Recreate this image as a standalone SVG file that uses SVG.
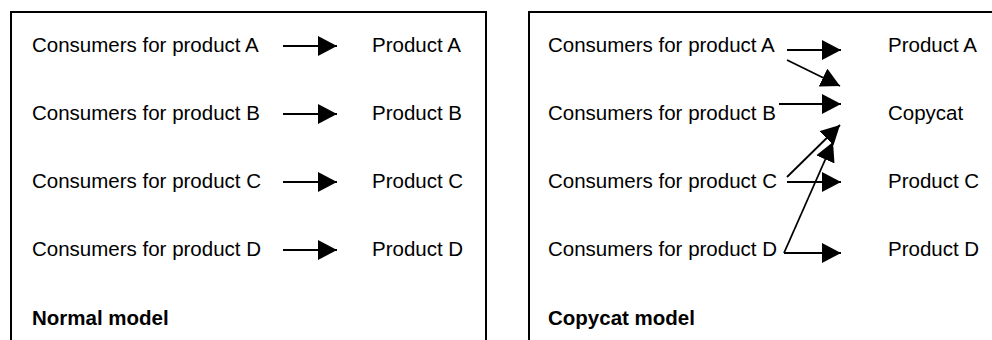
<svg xmlns="http://www.w3.org/2000/svg" width="992" height="340" viewBox="0 0 992 340">
<style>
text{font-family:"Liberation Sans",Arial,sans-serif;font-size:20.5px;fill:#000}
.b{font-weight:bold}
.frame{fill:none;stroke:#000;stroke-width:2}
.c{fill:none;stroke:#000;stroke-width:1.8}
</style>
<defs>
<marker id="ah" markerUnits="userSpaceOnUse" markerWidth="20" markerHeight="20" refX="19" refY="10" orient="auto">
<path d="M0,0 L19,10 L0,20 z" fill="#000"/>
</marker>
</defs>
<rect width="992" height="340" fill="#fff"/>
<g id="normal-panel">
<path class="frame" d="M11,345 V12 H486 V345"/>
<g id="n-consA"><text x="32" y="52">Consumers for product A</text></g>
<g id="n-consB"><text x="32" y="120">Consumers for product B</text></g>
<g id="n-consC"><text x="32" y="188">Consumers for product C</text></g>
<g id="n-consD"><text x="32" y="256">Consumers for product D</text></g>
<g id="n-prodA"><text x="372" y="52">Product A</text></g>
<g id="n-prodB"><text x="372" y="120">Product B</text></g>
<g id="n-prodC"><text x="372" y="188">Product C</text></g>
<g id="n-prodD"><text x="372" y="256">Product D</text></g>
<g id="n-label"><text class="b" x="32" y="325">Normal model</text></g>
</g>
<g id="copycat-panel">
<path class="frame" d="M529,345 V12 H1000"/>
<g id="c-consA"><text x="548" y="52">Consumers for product A</text></g>
<g id="c-consB"><text x="548" y="120">Consumers for product B</text></g>
<g id="c-consC"><text x="548" y="188">Consumers for product C</text></g>
<g id="c-consD"><text x="548" y="256">Consumers for product D</text></g>
<g id="c-prodA"><text x="888" y="52">Product A</text></g>
<g id="c-copycat"><text x="888" y="120">Copycat</text></g>
<g id="c-prodC"><text x="888" y="188">Product C</text></g>
<g id="c-prodD"><text x="888" y="256">Product D</text></g>
<g id="c-label"><text class="b" x="548" y="325">Copycat model</text></g>
</g>
<g id="connectors">
<line class="c" x1="283" y1="46" x2="337" y2="46" marker-end="url(#ah)"/>
<line class="c" x1="283" y1="114" x2="337" y2="114" marker-end="url(#ah)"/>
<line class="c" x1="283" y1="182" x2="337" y2="182" marker-end="url(#ah)"/>
<line class="c" x1="283" y1="250" x2="337" y2="250" marker-end="url(#ah)"/>
<line class="c" x1="787" y1="50" x2="841" y2="50" marker-end="url(#ah)"/>
<line class="c" x1="787" y1="60" x2="840" y2="86" marker-end="url(#ah)"/>
<line class="c" x1="779" y1="104" x2="841" y2="104" marker-end="url(#ah)"/>
<line class="c" x1="787" y1="177" x2="840" y2="125" marker-end="url(#ah)"/>
<line class="c" x1="787" y1="182" x2="841" y2="182" marker-end="url(#ah)"/>
<path class="c" d="M784,253 H841" marker-end="url(#ah)"/>
<line class="c" x1="784" y1="253" x2="833" y2="142" marker-end="url(#ah)"/>
</g>
</svg>
